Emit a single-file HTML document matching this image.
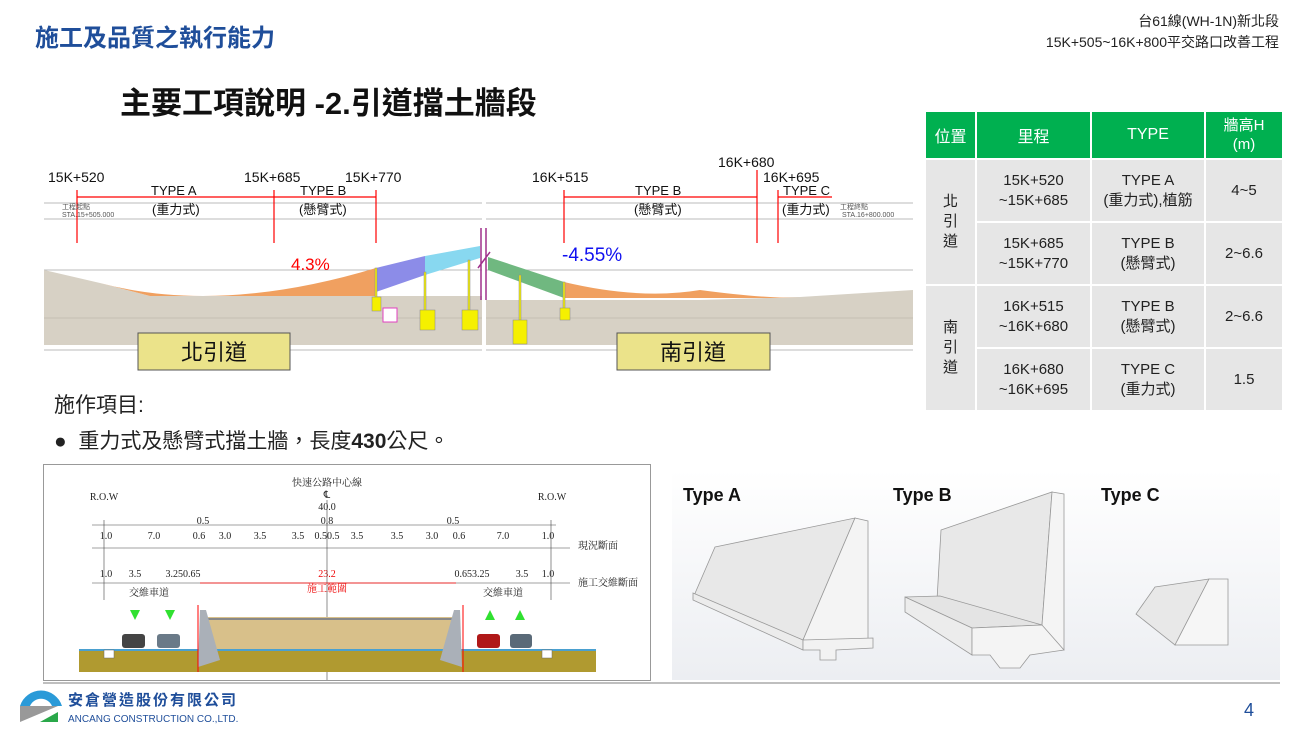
<!DOCTYPE html>
<html><head><meta charset="utf-8"><style>
body{margin:0;width:1300px;height:731px;background:#fff;overflow:hidden;position:relative;font-family:"Liberation Sans","Noto Sans CJK TC",sans-serif}
.a{position:absolute;white-space:nowrap}
table{position:absolute;left:924px;top:110px;border-collapse:separate;border-spacing:2px;font-size:15px;text-align:center;color:#222}
th{background:#00b050;color:#fff;font-weight:normal;height:44px;font-size:16px}
td{background:#e6e6e6;height:59px;line-height:20px}
</style></head><body>
<div class="a" style="left:35px;top:18px;font-size:24px;font-weight:bold;color:#1f4e9a">施工及品質之執行能力</div>
<div class="a" style="right:21px;top:11px;font-size:14px;text-align:right;line-height:21px;color:#222">台61線(WH-1N)新北段<br>15K+505~16K+800平交路口改善工程</div>
<div class="a" style="left:120px;top:78px;font-size:31px;font-weight:bold;color:#111">主要工項說明 -2.引道擋土牆段</div>

<svg class="a" style="left:0;top:0" width="1300" height="731" xmlns="http://www.w3.org/2000/svg" font-family="Liberation Sans, Noto Sans CJK TC, sans-serif">
<!-- profile left -->
<g stroke="#bbb" stroke-width="1">
<line x1="44" y1="203" x2="482" y2="203"/><line x1="44" y1="219" x2="482" y2="219"/>
<line x1="44" y1="270" x2="482" y2="270"/><line x1="44" y1="350" x2="482" y2="350"/>
<line x1="486" y1="203" x2="913" y2="203"/><line x1="486" y1="219" x2="913" y2="219"/>
<line x1="486" y1="270" x2="913" y2="270"/><line x1="486" y1="350" x2="913" y2="350"/>
</g>
<polygon points="44,270 100,283 150,296 482,296 482,345 44,345" fill="#d7d1c5"/>
<polygon points="486,300 700,300 800,297 913,290 913,345 486,345" fill="#d7d1c5"/>
<g stroke="#b3ada0" stroke-width="0.6">
<line x1="44" y1="318" x2="482" y2="318"/><line x1="486" y1="318" x2="913" y2="318"/>
</g>
<path d="M100,283 Q220,315 376,268 L376,296 L150,296 Z" fill="#f0a060"/>
<polygon points="376,268 425,256 425,275 376,292" fill="#8c8ce8"/>
<polygon points="425,256 480,246 480,258 425,275" fill="#88d8f0"/>
<polygon points="488,257 564,282 564,298 488,270" fill="#70b880"/>
<path d="M564,282 Q640,300 700,290 Q760,298 800,298 L564,298 Z" fill="#f0a060"/>
<g stroke="#a0308c" stroke-width="1.5" fill="none"><path d="M481,228 L481,300 M486,228 L486,300 M478,268 L490,252"/></g>
<g fill="#f5f000" stroke="#888" stroke-width="0.5">
<rect x="375" y="268" width="2" height="30"/><rect x="372" y="297" width="9" height="14"/>
<rect x="424" y="272" width="2" height="40"/><rect x="420" y="310" width="15" height="20"/>
<rect x="468" y="260" width="2" height="52"/><rect x="462" y="310" width="16" height="20"/>
<rect x="519" y="275" width="2" height="46"/><rect x="513" y="320" width="14" height="24"/>
<rect x="563" y="282" width="2" height="30"/><rect x="560" y="308" width="10" height="12"/>
</g>
<rect x="383" y="308" width="14" height="14" fill="#fff" stroke="#e040c0"/>
<g stroke="#f00" stroke-width="1.2"><line x1="77" y1="190" x2="77" y2="243"/><line x1="274" y1="190" x2="274" y2="243"/><line x1="376" y1="190" x2="376" y2="243"/>
<line x1="564" y1="190" x2="564" y2="243"/><line x1="757" y1="170" x2="757" y2="243"/><line x1="778" y1="190" x2="778" y2="243"/>
<line x1="77" y1="197" x2="376" y2="197"/><line x1="564" y1="197" x2="757" y2="197"/><line x1="778" y1="197" x2="832" y2="197"/></g>
<g font-size="14" fill="#111">
<text x="48" y="182">15K+520</text><text x="244" y="182">15K+685</text><text x="345" y="182">15K+770</text>
<text x="532" y="182">16K+515</text><text x="718" y="167">16K+680</text><text x="763" y="182">16K+695</text>
<text x="151" y="195" font-size="13">TYPE A</text><text x="152" y="214" font-size="13">(重力式)</text>
<text x="300" y="195" font-size="13">TYPE B</text><text x="299" y="214" font-size="13">(懸臂式)</text>
<text x="635" y="195" font-size="13">TYPE B</text><text x="634" y="214" font-size="13">(懸臂式)</text>
<text x="783" y="195" font-size="13">TYPE C</text><text x="782" y="214" font-size="13">(重力式)</text>
</g>
<g font-size="7" fill="#555"><text x="62" y="209">工程起點</text><text x="62" y="217">STA.15+505.000</text><text x="840" y="209">工程終點</text><text x="842" y="217">STA.16+800.000</text></g>
<text x="291" y="270" font-size="17" fill="#f00">4.3%</text>
<text x="562" y="261" font-size="19" fill="#1010f0">-4.55%</text>
<rect x="138" y="333" width="152" height="37" fill="#ebe38a" stroke="#555"/>
<text x="214" y="360" font-size="22" text-anchor="middle" fill="#111">北引道</text>
<rect x="617" y="333" width="153" height="37" fill="#ebe38a" stroke="#555"/>
<text x="693" y="360" font-size="22" text-anchor="middle" fill="#111">南引道</text>

<!-- cross section -->
<rect x="43.5" y="464.5" width="607" height="216" fill="#fff" stroke="#999"/>
<g font-family="Liberation Serif, Noto Serif CJK SC, serif" font-size="10" fill="#222" text-anchor="middle">
<text x="327" y="486">快速公路中心線</text><text x="327" y="498">℄</text><text x="327" y="510">40.0</text>
<text x="104" y="500">R.O.W</text><text x="552" y="500">R.O.W</text>
<text x="203" y="524">0.5</text><text x="327" y="524">0.8</text><text x="453" y="524">0.5</text>
<text x="106" y="539">1.0</text><text x="154" y="539">7.0</text><text x="199" y="539">0.6</text><text x="225" y="539">3.0</text><text x="260" y="539">3.5</text><text x="298" y="539">3.5</text><text x="327" y="539">0.50.5</text><text x="357" y="539">3.5</text><text x="397" y="539">3.5</text><text x="432" y="539">3.0</text><text x="459" y="539">0.6</text><text x="503" y="539">7.0</text><text x="548" y="539">1.0</text>
<text x="106" y="577">1.0</text><text x="135" y="577">3.5</text><text x="183" y="577">3.250.65</text><text x="327" y="577" fill="#e00">23.2</text><text x="472" y="577">0.653.25</text><text x="522" y="577">3.5</text><text x="548" y="577">1.0</text>
<text x="327" y="592" fill="#e00">施工範圍</text><text x="149" y="596">交維車道</text><text x="503" y="596">交維車道</text>
<text x="578" y="549" text-anchor="start">現況斷面</text><text x="578" y="586" text-anchor="start">施工交維斷面</text>
</g>
<g stroke="#444" stroke-width="0.6"><line x1="92" y1="525" x2="556" y2="525"/><line x1="92" y1="548" x2="570" y2="548"/><line x1="92" y1="583" x2="570" y2="583"/><line x1="327" y1="500" x2="327" y2="680"/>
<line x1="104" y1="520" x2="104" y2="600"/><line x1="551" y1="520" x2="551" y2="600"/></g>
<line x1="200" y1="583" x2="456" y2="583" stroke="#f00" stroke-width="0.8"/>
<rect x="79" y="650" width="517" height="22" fill="#b09a30"/>
<line x1="79" y1="650" x2="596" y2="650" stroke="#4aa0d0" stroke-width="2"/>
<polygon points="205,617 455,617 455,649 205,649" fill="#d8c08a"/>
<line x1="205" y1="619" x2="455" y2="619" stroke="#888" stroke-width="2"/>
<polygon points="200,610 206,610 220,660 198,667" fill="#aab0b8"/><polygon points="460,610 454,610 440,660 462,667" fill="#aab0b8"/>
<line x1="198" y1="605" x2="198" y2="672" stroke="#f00"/><line x1="463" y1="605" x2="463" y2="672" stroke="#f00"/>
<g fill="#30e030"><polygon points="130,610 140,610 135,620"/><polygon points="165,610 175,610 170,620"/><polygon points="485,620 495,620 490,610"/><polygon points="515,620 525,620 520,610"/></g>
<g><rect x="122" y="634" width="23" height="14" rx="3" fill="#444"/><rect x="157" y="634" width="23" height="14" rx="3" fill="#6a7a88"/><rect x="477" y="634" width="23" height="14" rx="3" fill="#b01818"/><rect x="510" y="634" width="22" height="14" rx="3" fill="#5a6a78"/></g>
<rect x="104" y="650" width="10" height="8" fill="#fff" stroke="#666" stroke-width="0.5"/><rect x="542" y="650" width="10" height="8" fill="#fff" stroke="#666" stroke-width="0.5"/>

<!-- wall types -->
<defs><linearGradient id="g" x1="0" y1="0" x2="0" y2="1"><stop offset="0" stop-color="#fff"/><stop offset="1" stop-color="#eceef2"/></linearGradient></defs>
<rect x="672" y="470" width="608" height="210" fill="url(#g)"/>
<g font-size="18" font-weight="bold" fill="#111"><text x="683" y="501">Type A</text><text x="893" y="501">Type B</text><text x="1101" y="501">Type C</text></g>
<g stroke="#999" stroke-width="0.8" fill="#e8e8e8">
<polygon points="715,547 855,518 803,640 693,598"/>
<polygon points="855,518 868,521 868,643 803,640" fill="#f4f4f4"/>
<polygon points="693,593 803,640 803,650 693,600" fill="#ececec"/>
<polygon points="803,640 873,638 873,648 836,650 836,660 820,660 820,650 803,650" fill="#f2f2f2"/>
<polygon points="941,530 1052,492 1042,625 937,600"/>
<polygon points="1052,492 1064,494 1064,650 1040,652 1042,625" fill="#f4f4f4"/>
<polygon points="905,597 940,596 1042,625 972,628" fill="#e4e4e4"/>
<polygon points="905,597 972,628 972,655 905,612" fill="#ececec"/>
<polygon points="972,628 1042,625 1064,650 1030,655 1020,668 1000,668 990,655 972,655" fill="#f4f4f4"/>
<polygon points="1155,587 1209,579 1175,645 1136,614"/>
<polygon points="1209,579 1228,579 1228,645 1175,645" fill="#f6f6f6"/>
</g>

<!-- footer -->
<line x1="43" y1="683" x2="1280" y2="683" stroke="#aaa" stroke-width="1.5"/>
<path d="M20,706 A22,22 0 0 1 62,706 L52,706 A12,12 0 0 0 30,706 Z" fill="#2a9ad8"/>
<polygon points="20,706 58,706 20,722" fill="#999"/><polygon points="40,722 58,712 58,722" fill="#2aa84a"/>
<text x="68" y="705" font-size="15" font-weight="bold" fill="#1f4e9a" letter-spacing="2">安倉營造股份有限公司</text>
<text x="68" y="722" font-size="10" fill="#1f4e9a">ANCANG CONSTRUCTION CO.,LTD.</text>
<text x="1244" y="716" font-size="18" fill="#1f4e9a">4</text>
</svg>

<div class="a" style="left:54px;top:389px;font-size:21px;color:#222">施作項目:</div>
<div class="a" style="left:54px;top:425px;font-size:21px;color:#222">●&nbsp; 重力式及懸臂式擋土牆，長度<b>430</b>公尺。</div>

<table>
<tr><th style="width:47px">位置</th><th style="width:111px">里程</th><th style="width:110px">TYPE</th><th style="width:74px;font-size:15px;line-height:19px">牆高H<br>(m)</th></tr>
<tr><td rowspan="2" style="line-height:20px">北<br>引<br>道</td><td>15K+520<br>~15K+685</td><td>TYPE A<br>(重力式),植筋</td><td>4~5</td></tr>
<tr><td>15K+685<br>~15K+770</td><td>TYPE B<br>(懸臂式)</td><td>2~6.6</td></tr>
<tr><td rowspan="2">南<br>引<br>道</td><td>16K+515<br>~16K+680</td><td>TYPE B<br>(懸臂式)</td><td>2~6.6</td></tr>
<tr><td>16K+680<br>~16K+695</td><td>TYPE C<br>(重力式)</td><td>1.5</td></tr>
</table>
</body></html>
